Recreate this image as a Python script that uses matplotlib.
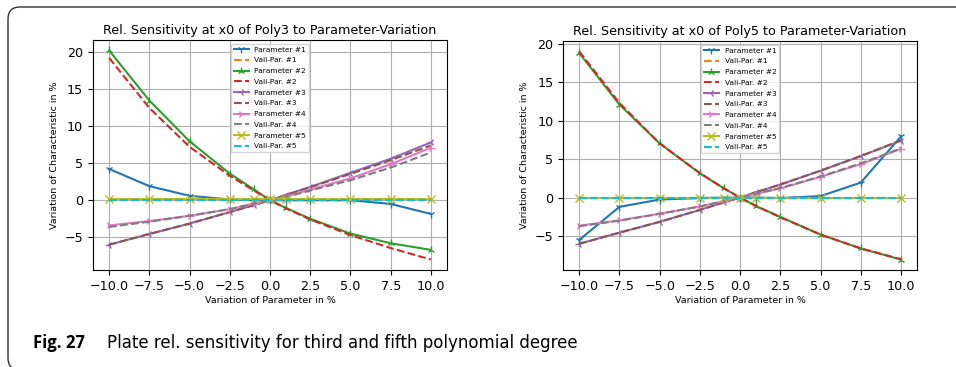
import matplotlib
matplotlib.use('Agg')
import matplotlib.pyplot as plt
from matplotlib.patches import FancyBboxPatch

# x-values (variation of parameter in %)
x = [-10, -7.5, -5, -2.5, -1, 0, 1, 2.5, 5, 7.5, 10]

# Poly3
p3_par1 = [4.22, 1.9, 0.6, 0.1, 0.02, 0, 0.0, 0.0, 0.0, -0.5, -1.85]
p3_val1 = [0, 0, 0, 0, 0, 0, 0, 0, 0, 0, 0]
p3_par2 = [20.2, 13.45, 7.95, 3.6, 1.45, 0, -1.05, -2.5, -4.5, -5.8, -6.7]
p3_val2 = [19.2, 12.45, 7.2, 3.3, 1.3, 0, -1.1, -2.6, -4.7, -6.45, -8.0]
p3_par3 = [-6.0, -4.55, -3.15, -1.6, -0.65, 0, 0.75, 1.8, 3.7, 5.6, 7.8]
p3_val3 = [-6.0, -4.55, -3.15, -1.6, -0.65, 0, 0.7, 1.75, 3.55, 5.4, 7.4]
p3_par4 = [-3.4, -2.8, -2.1, -1.2, -0.45, 0, 0.5, 1.45, 2.95, 4.85, 7.1]
p3_val4 = [-3.6, -2.9, -2.1, -1.2, -0.45, 0, 0.45, 1.3, 2.7, 4.4, 6.45]
p3_par5 = [0.1, 0.1, 0.1, 0.1, 0.1, 0.1, 0.1, 0.1, 0.1, 0.1, 0.1]
p3_val5 = [0, 0, 0, 0, 0, 0, 0, 0, 0, 0, 0]

# Poly5
p5_par1 = [-5.5, -1.2, -0.25, -0.05, 0, 0, 0, -0.05, 0.2, 1.95, 7.95]
p5_val1 = [0, 0, 0, 0, 0, 0, 0, 0, 0, 0, 0]
p5_par2 = [18.8, 12.1, 7.05, 3.15, 1.2, 0, -1.1, -2.5, -4.8, -6.6, -8.05]
p5_val2 = [19.0, 12.3, 7.05, 3.2, 1.2, 0, -1.1, -2.55, -4.8, -6.6, -8.0]
p5_par3 = [-6.0, -4.55, -3.15, -1.6, -0.6, 0, 0.7, 1.7, 3.5, 5.4, 7.4]
p5_val3 = [-6.0, -4.55, -3.15, -1.6, -0.6, 0, 0.7, 1.7, 3.5, 5.4, 7.45]
p5_par4 = [-3.65, -2.95, -2.1, -1.15, -0.45, 0, 0.5, 1.2, 2.7, 4.35, 6.35]
p5_val4 = [-3.7, -3.0, -2.1, -1.15, -0.45, 0, 0.5, 1.25, 2.75, 4.45, 6.4]
p5_par5 = [0, 0, 0, 0, 0, 0, 0, 0, 0, 0, 0]
p5_val5 = [0, 0, 0, 0, 0, 0, 0, 0, 0, 0, 0]

markers = ['1', '2', '3', '4', 'x']

fig = plt.figure(figsize=(9.56, 3.67), dpi=100)

# rounded frame of the journal figure box (in inches)
frame = FancyBboxPatch((0.08, -0.03), 10.0, 3.6 + 0.03,
                       boxstyle='round,pad=0,rounding_size=0.12',
                       transform=fig.dpi_scale_trans, fill=False,
                       edgecolor='#333333', lw=1.0, clip_on=False)
fig.patches.append(frame)


def draw(ax, pars, vals, title):
    for i in range(5):
        ax.plot(x, pars[i], marker=markers[i], lw=1.5, ms=6,
                color='C%d' % (2*i), label='Parameter #%d' % (i+1))
        ax.plot(x, vals[i], '--', lw=1.5,
                color='C%d' % (2*i+1), label='Vali-Par. #%d' % (i+1))
    ax.grid(True)
    ax.set_title(title, fontsize=9.2, pad=4)
    ax.set_xlabel('Variation of Parameter in %', fontsize=6.8, labelpad=2)
    ax.set_ylabel('Variation of Characteristic in %', fontsize=6.8)
    ax.tick_params(labelsize=9.2)
    ax.set_xticks([-10, -7.5, -5, -2.5, 0, 2.5, 5, 7.5, 10])
    ax.set_yticks([-5, 0, 5, 10, 15, 20])
    ax.legend(loc='upper center', fontsize=5.3, handlelength=2.0,
              labelspacing=0.62)


ax1 = fig.add_axes([0.0973, 0.2643, 0.3703, 0.6267])
draw(ax1, [p3_par1, p3_par2, p3_par3, p3_par4, p3_par5],
     [p3_val1, p3_val2, p3_val3, p3_val4, p3_val5],
     'Rel. Sensitivity at x0 of Poly3 to Parameter-Variation')

ax2 = fig.add_axes([0.589, 0.2643, 0.3703, 0.624])
draw(ax2, [p5_par1, p5_par2, p5_par3, p5_par4, p5_par5],
     [p5_val1, p5_val2, p5_val3, p5_val4, p5_val5],
     'Rel. Sensitivity at x0 of Poly5 to Parameter-Variation')

fig.text(33/956, 1 - 343/367, 'Fig. 27', fontsize=12, fontweight='bold',
         va='center', family=['Open Sans', 'DejaVu Sans'])
fig.text(107/956, 1 - 343/367,
         'Plate rel. sensitivity for third and fifth polynomial degree',
         fontsize=12, va='center', family=['Liberation Sans Narrow', 'DejaVu Sans'])

fig.savefig('out.png', dpi=100)
